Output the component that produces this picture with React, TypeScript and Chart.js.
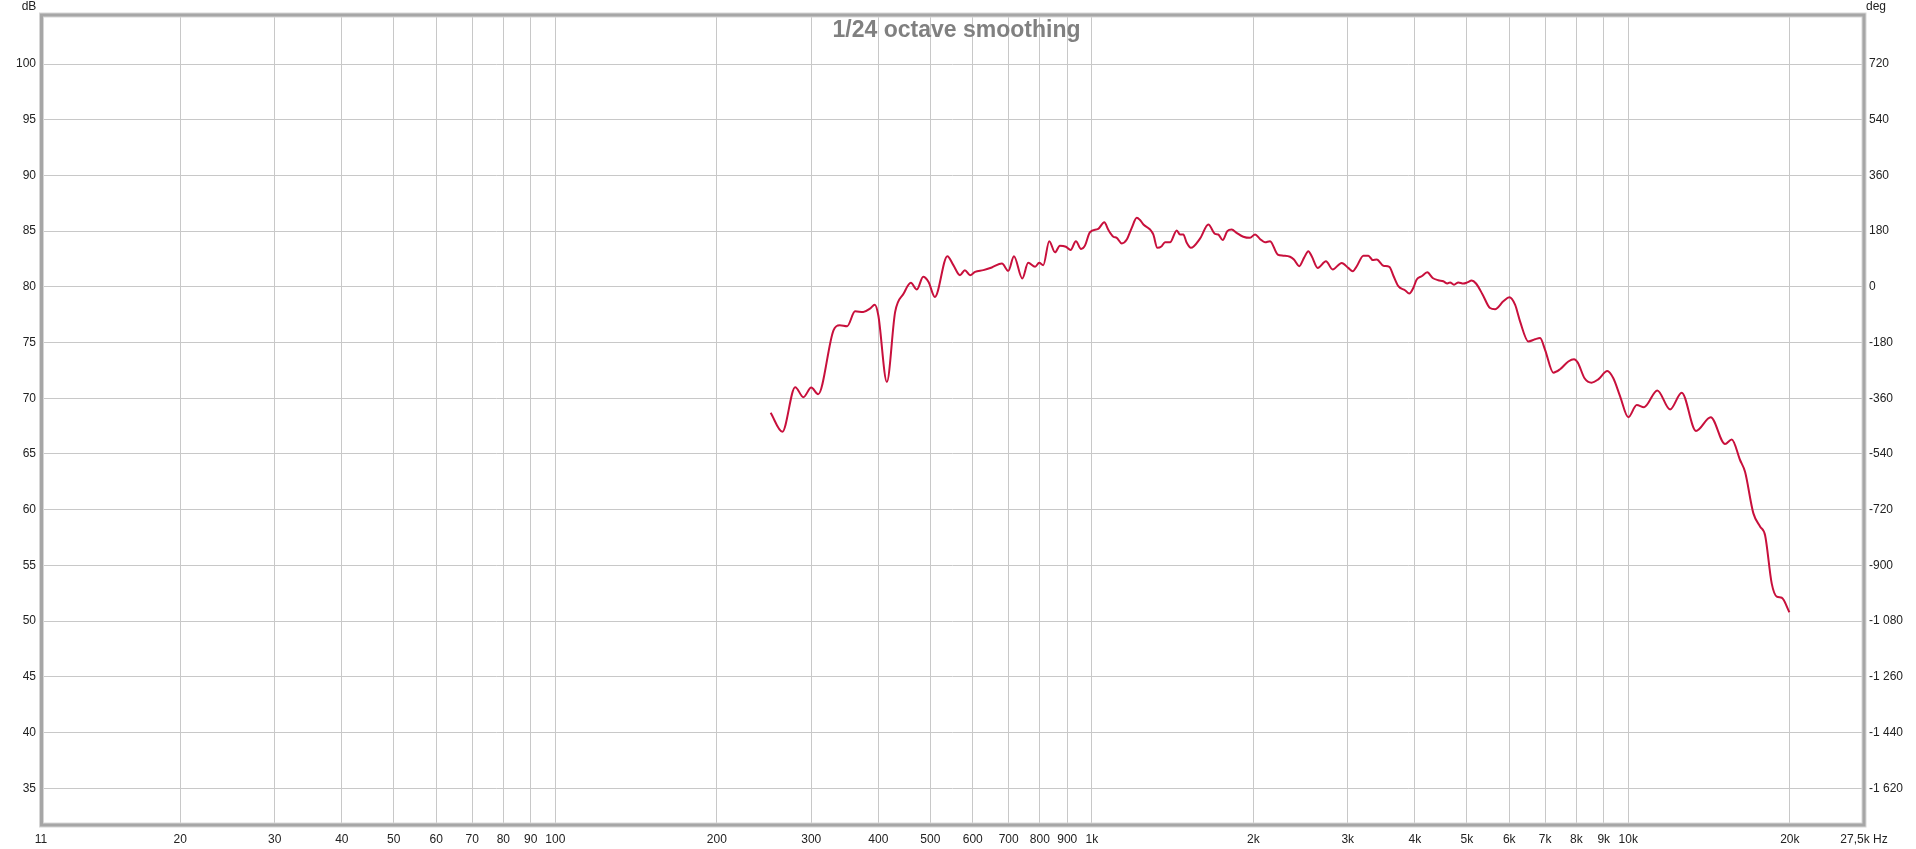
import React, { useEffect, useRef } from "react";
import { Chart, registerables } from "chart.js";

Chart.register(...registerables);

// Frequency response (Hz) and level (dB SPL), 1/24 octave smoothing
const freqs: number[] = [
  252, 265, 280, 290, 300, 309, 330, 339, 350, 362, 375, 386, 394, 400, 415, 430, 446, 460, 472, 485,
  496, 510, 538, 552, 568, 580, 593, 606, 628, 651, 680, 699, 716, 742, 761, 784, 798, 812, 833, 854,
  872, 895, 913, 934, 955, 971, 992, 1028, 1055, 1074, 1097, 1113, 1137, 1162, 1187, 1213, 1230, 1248,
  1284, 1302, 1325, 1350, 1369, 1399, 1440, 1460, 1481, 1503, 1530, 1592, 1649, 1697, 1721, 1754, 1789,
  1823, 1862, 1916, 1972, 2015, 2058, 2103, 2149, 2221, 2275, 2341, 2381, 2436, 2486, 2533, 2570, 2637,
  2732, 2812, 2923, 3006, 3065, 3118, 3208, 3277, 3340, 3397, 3495, 3586, 3649, 3727, 3835, 3907, 3974,
  4033, 4119, 4220, 4319, 4424, 4521, 4600, 4653, 4733, 4822, 4926, 5011, 5106, 5202, 5353, 5524, 5644,
  5849, 6003, 6151, 6284, 6512, 6703, 6848, 6996, 7250, 7460, 7731, 7922, 8051, 8288, 8546, 8792, 9140,
  9378, 9651, 10000, 10369, 10698, 11327, 11962, 12578, 13370, 14245, 15147, 15587, 16155, 16504, 17107,
  17603, 17987, 18509, 18912, 19323, 19966,
];
const levels: number[] = [
  68.7, 67.0, 71.0, 70.1, 70.96, 70.36, 76.1, 76.56, 76.47, 77.8, 77.75, 78.05, 78.4, 77.45, 71.47, 77.75, 79.4, 80.36, 79.76, 80.9,
  80.45, 79.1, 82.75, 81.95, 81.05, 81.5, 81.05, 81.35, 81.5, 81.74, 82.1, 81.44, 82.75, 80.75, 82.16, 81.8, 82.16, 81.95, 84.1, 83.1,
  83.7, 83.6, 83.3, 84.1, 83.4, 83.7, 84.9, 85.2, 85.8, 85.1, 84.5, 84.4, 83.9, 84.25, 85.3, 86.2, 86.0, 85.6,
  85.15, 84.7, 83.5, 83.65, 84.0, 84.0, 85.06, 84.7, 84.7, 83.95, 83.5, 84.35, 85.6, 84.76, 84.7, 84.2, 85.0,
  85.15, 84.85, 84.5, 84.4, 84.7, 84.3, 84.0, 84.1, 82.9, 82.8, 82.7, 82.45, 81.86, 82.6, 83.2, 82.75, 81.7,
  82.3, 81.56, 82.15, 81.7, 81.4, 81.85, 82.8, 82.8, 82.4, 82.45, 81.9, 81.8, 81.0, 80.06, 79.7, 79.4, 79.9,
  80.66, 80.95, 81.3, 80.8, 80.6, 80.5, 80.3, 80.4, 80.2, 80.4, 80.3, 80.4, 80.57, 80.3, 79.3, 78.1, 78.0,
  78.7, 79.07, 78.4, 76.9, 75.1, 75.3, 75.4, 74.35, 72.3, 72.6, 73.3, 73.5, 73.2, 71.8, 71.4, 71.7, 72.45,
  71.8, 70.2, 68.3, 69.4, 69.2, 70.7, 69.0, 70.5, 67.07, 68.3, 65.9, 66.3, 64.46, 63.4, 59.67,
  58.5, 57.7, 53.36, 52.2, 52.1, 50.8,
];

const xTicks: number[] = [11, 20, 30, 40, 50, 60, 70, 80, 90, 100, 200, 300, 400, 500, 600, 700, 800, 900, 1000, 2000, 3000, 4000, 5000, 6000, 7000, 8000, 9000, 10000, 20000, 27500];
const xTickLabels: string[] = ["11", "20", "30", "40", "50", "60", "70", "80", "90", "100", "200", "300", "400", "500", "600", "700", "800", "900", "1k", "2k", "3k", "4k", "5k", "6k", "7k", "8k", "9k", "10k", "20k", "27,5k Hz"];
const dbTicks: number[] = [35, 40, 45, 50, 55, 60, 65, 70, 75, 80, 85, 90, 95, 100];
const degTicks: number[] = [-1620, -1440, -1260, -1080, -900, -720, -540, -360, -180, 0, 180, 360, 540, 720];
const degTickLabels: string[] = ["-1 620", "-1 440", "-1 260", "-1 080", "-900", "-720", "-540", "-360", "-180", "0", "180", "360", "540", "720"];

const DB_MIN = 31.7;
const DB_MAX = 104.4;
const F_MIN = 11;
const F_MAX = 27500;
const TITLE = "1/24 octave smoothing";

const FONT = "'Liberation Sans', Arial, sans-serif";

export default function App() {
  const ref = useRef<HTMLCanvasElement | null>(null);

  useEffect(() => {
    if (!ref.current) return;
    const overlay = {
      id: "overlay",
      afterDraw(chart: any) {
        const { ctx, chartArea } = chart;
        const { left, right, top, bottom } = chartArea;
        ctx.save();
        // frame
        ctx.strokeStyle = "#d6d6d6";
        ctx.lineWidth = 5;
        ctx.strokeRect(left + 0.5, top, right - left - 0.5, bottom - top);
        ctx.strokeStyle = "#a6a6a6";
        ctx.lineWidth = 3;
        ctx.strokeRect(left + 0.5, top, right - left - 0.5, bottom - top);
        // title
        ctx.fillStyle = "#808080";
        ctx.font = "bold 23px " + FONT;
        ctx.textAlign = "center";
        ctx.textBaseline = "alphabetic";
        ctx.fillText(TITLE, (left + right) / 2 + 4, 37);
        // unit labels
        ctx.fillStyle = "#222";
        ctx.font = "12px " + FONT;
        ctx.textAlign = "center";
        ctx.fillText("dB", 29, 10);
        ctx.textAlign = "left";
        ctx.fillText("deg", 1866, 10);
        ctx.restore();
      },
    };

    const chart = new Chart(ref.current, {
      type: "line",
      data: {
        datasets: [
          {
            data: freqs.map((f, i) => ({ x: f, y: levels[i] })),
            borderColor: "#c8103c",
            borderWidth: 2,
            pointRadius: 0,
            fill: false,
            cubicInterpolationMode: "monotone",
            yAxisID: "y",
          },
        ],
      },
      options: {
        animation: false,
        responsive: false,
        events: [],
        layout: { padding: { top: 15, left: 0, right: 0, bottom: 0 } },
        plugins: { legend: { display: false }, tooltip: { enabled: false }, title: { display: false } },
        scales: {
          x: {
            type: "logarithmic",
            min: F_MIN,
            max: F_MAX,
            afterBuildTicks: (s: any) => {
              s.ticks = xTicks.map((v) => ({ value: v }));
            },
            afterFit: (s: any) => {
              s.height = 24;
            },
            border: { display: false },
            grid: {
              drawTicks: false,
              color: (c: any) =>
                c.tick && (c.tick.value === F_MIN || c.tick.value === F_MAX) ? "rgba(0,0,0,0)" : "#c8c8c8",
              lineWidth: 1,
            },
            ticks: {
              autoSkip: false,
              maxRotation: 0,
              minRotation: 0,
              padding: 7,
              color: "#222",
              font: { family: FONT, size: 12 },
              callback: (_v: any, i: number) => xTickLabels[i],
            },
          },
          y: {
            type: "linear",
            position: "left",
            min: DB_MIN,
            max: DB_MAX,
            afterBuildTicks: (s: any) => {
              s.ticks = dbTicks.map((v) => ({ value: v }));
            },
            afterFit: (s: any) => {
              s.width = 41;
            },
            border: { display: false },
            grid: { drawTicks: false, color: "#c8c8c8", lineWidth: 1 },
            ticks: {
              padding: 5,
              color: "#222",
              font: { family: FONT, size: 12 },
              callback: (v: any) => String(v),
            },
          },
          y2: {
            type: "linear",
            position: "right",
            display: true,
            min: (DB_MIN - 80) * 36,
            max: (DB_MAX - 80) * 36,
            afterBuildTicks: (s: any) => {
              s.ticks = degTicks.map((v) => ({ value: v }));
            },
            afterFit: (s: any) => {
              s.width = 52;
            },
            border: { display: false },
            grid: { display: true, drawOnChartArea: false, drawTicks: false },
            ticks: {
              padding: 5,
              color: "#222",
              font: { family: FONT, size: 12 },
              callback: (_v: any, i: number) => degTickLabels[i],
            },
          },
        },
      } as any,
      plugins: [overlay],
    });
    return () => chart.destroy();
  }, []);

  return (
    <div style={{ position: "fixed", left: 0, top: 0, width: 1916, height: 849, background: "#fff" }}>
      <canvas ref={ref} width={1916} height={849} style={{ display: "block" }} />
    </div>
  );
}
